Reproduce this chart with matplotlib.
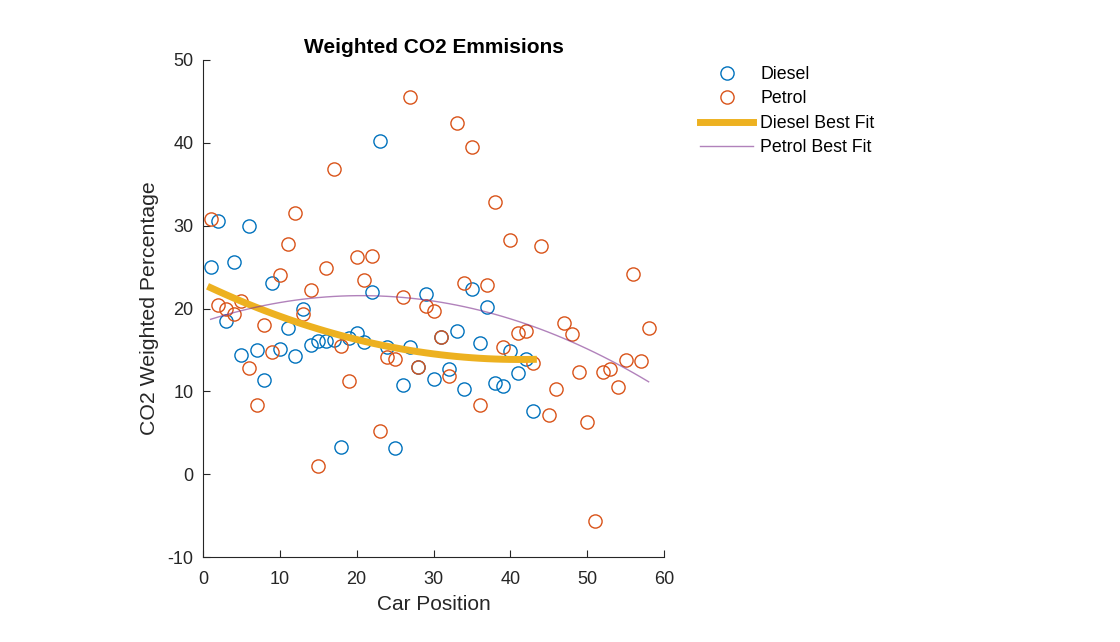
import numpy as np
import matplotlib
matplotlib.use("Agg")
import matplotlib.pyplot as plt

plt.rcParams['font.family'] = ['Liberation Sans', 'DejaVu Sans']
plt.rcParams['axes.unicode_minus'] = False

diesel_pos = list(range(1, 44))
diesel_val = [25.0, 30.6, 18.5, 25.6, 14.4, 30.0, 15.0, 11.4, 23.1, 15.1,
              17.6, 14.3, 20.0, 15.6, 16.1, 16.1, 16.2, 3.3, 16.4, 17.1,
              16.0, 22.0, 40.2, 15.4, 3.1, 10.8, 15.4, 12.9, 21.8, 11.5,
              16.5, 12.7, 17.3, 10.3, 22.3, 15.8, 20.2, 11.0, 10.7, 14.9,
              12.2, 13.9, 7.6]

petrol_pos = list(range(1, 59))
petrol_val = [30.8, 20.4, 19.9, 19.3, 20.9, 12.8, 8.3, 18.0, 14.7, 24.1,
              27.8, 31.5, 19.3, 22.2, 1.0, 24.9, 36.8, 15.5, 11.3, 26.2,
              23.4, 26.3, 5.2, 14.1, 13.9, 21.4, 45.5, 12.9, 20.3, 19.7,
              16.5, 11.8, 42.4, 23.1, 39.5, 8.4, 22.8, 32.9, 15.3, 28.3,
              17.1, 17.3, 13.4, 27.5, 7.1, 10.3, 18.2, 16.9, 12.3, 6.3,
              -5.6, 12.3, 12.7, 10.5, 13.8, 24.2, 13.7, 17.6]

x_ticks = [0, 10, 20, 30, 40, 50, 60]
y_ticks = [-10, 0, 10, 20, 30, 40, 50]

dx = np.array(diesel_pos, float); dy = np.array(diesel_val)
px = np.array(petrol_pos, float); py = np.array(petrol_val)
d_fit = np.polyval(np.polyfit(dx, dy, 2), dx)
p_fit = np.polyval(np.polyfit(px, py, 2), px)

fig = plt.figure(figsize=(11.2, 6.42), dpi=100)
ax = fig.add_axes([203/1120, 1-557/642, (664-203)/1120, (557-60)/642])

ax.plot(dx, dy, 'o', mfc='none', mec='#0072BD', ms=9.5, mew=1.0, label='Diesel')
ax.plot(px, py, 'o', mfc='none', mec='#D95319', ms=9.5, mew=1.0, label='Petrol')
ax.plot(dx, d_fit, '-', color='#EDB120', lw=5, label='Diesel Best Fit')
ax.plot(px, p_fit, '-', color='#7E2F8E', lw=1.0, alpha=0.6, label='Petrol Best Fit')

ax.set_xlim(0, 60)
ax.set_ylim(-10, 50)
ax.set_xticks(x_ticks)
ax.set_yticks(y_ticks)
for s in ['top', 'right']:
    ax.spines[s].set_visible(False)
for s in ['left', 'bottom']:
    ax.spines[s].set_color('#262626')
    ax.spines[s].set_linewidth(0.8)
ax.tick_params(direction='in', length=5, width=0.8, colors='#262626', labelsize=13)
ax.tick_params(axis='x', pad=10)
ax.tick_params(axis='y', pad=7)
ax.set_xlabel('Car Position', fontsize=15, color='#262626', labelpad=5)
ax.set_ylabel('CO2 Weighted Percentage', fontsize=15.3, color='#262626', labelpad=6)
ax.set_title('Weighted CO2 Emmisions', fontsize=15, fontweight='bold', color='black', pad=5)

leg = ax.legend(loc='upper left', bbox_to_anchor=(700/1120, 1-66/642), bbox_transform=fig.transFigure,
                frameon=False, fontsize=12.8, handlelength=3.0, labelspacing=0.42,
                handletextpad=0.4, borderpad=0, borderaxespad=0)

fig.savefig('out.png', dpi=100, facecolor='white')
